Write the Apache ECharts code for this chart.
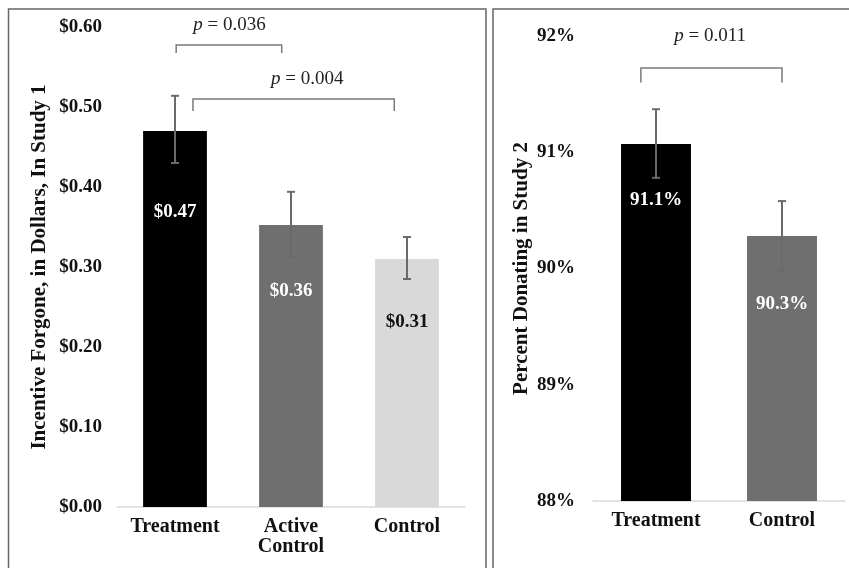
<!DOCTYPE html>
<html>
<head>
<meta charset="utf-8">
<script src="https://cdn.jsdelivr.net/npm/echarts@6/dist/echarts.min.js"></script>
<style>
html,body{margin:0;padding:0;background:#fff;}
#chart{width:849px;height:568px;}
</style>
</head>
<body>
<div id="chart"></div>
<script>
// ---------- Data ----------
var study1Categories = ['Treatment', 'Active\nControl', 'Control'];
var study1Values = [0.47, 0.3525, 0.31];
var study1Labels = ['$0.47', '$0.36', '$0.31'];
var study1ErrLow = [0.43, 0.3125, 0.285];
var study1ErrHigh = [0.514, 0.394, 0.3375];
var study1Colors = ['#000000', '#6f6f6f', '#d9d9d9'];
var study1LabelColors = ['#ffffff', '#ffffff', '#111111'];
var study1LabelDist = [72, 57, 54];

var study2Categories = ['Treatment', 'Control'];
var study2Values = [91.07, 90.28];
var study2Labels = ['91.1%', '90.3%'];
var study2ErrLow = [90.78, 89.98];
var study2ErrHigh = [91.37, 90.58];
var study2Colors = ['#000000', '#6f6f6f'];
var study2LabelDist = [46, 59];

// brackets: [xStart (category pos), xEnd, yTop, yTip, textX, textY, pText]
var study1Brackets = [
  [0.01, 0.92, 0.5775, 0.5675, 0.47, 0.603, '0.036'],
  [0.155, 1.89, 0.51, 0.495, 1.14, 0.535, '0.004']
];
var study2Brackets = [
  [-0.12, 1.0, 91.725, 91.60, 0.43, 92.0, '0.011']
];

var serif = '"Liberation Serif", "Times New Roman", serif';

function catX(api, pos, y) {
  var base = Math.floor(pos);
  var frac = pos - base;
  var band = api.size([1, 0])[0];
  return api.coord([base, y])[0] + frac * band;
}

function errRender(params, api) {
  var x = api.coord([api.value(0), api.value(1)])[0];
  var yLow = api.coord([api.value(0), api.value(1)])[1];
  var yHigh = api.coord([api.value(0), api.value(2)])[1];
  var cap = 4;
  var st = { stroke: '#6a6a6a', lineWidth: 2 };
  return {
    type: 'group',
    children: [
      { type: 'line', shape: { x1: x, y1: yLow, x2: x, y2: yHigh }, style: st },
      { type: 'line', shape: { x1: x - cap, y1: yLow, x2: x + cap, y2: yLow }, style: st },
      { type: 'line', shape: { x1: x - cap, y1: yHigh, x2: x + cap, y2: yHigh }, style: st }
    ]
  };
}

function bracketRender(brackets) {
  return function (params, api) {
    var b = brackets[params.dataIndex];
    var x1 = catX(api, b[0], b[2]);
    var x2 = catX(api, b[1], b[2]);
    var yTop = api.coord([0, b[2]])[1];
    var yTip = api.coord([0, b[3]])[1];
    var tx = catX(api, b[4], b[5]);
    var ty = api.coord([0, b[5]])[1];
    return {
      type: 'group',
      children: [
        {
          type: 'polyline',
          shape: { points: [[x1, yTip], [x1, yTop], [x2, yTop], [x2, yTip]] },
          style: { stroke: '#7a7a7a', lineWidth: 1.5, fill: null }
        },
        {
          type: 'text',
          x: tx, y: ty,
          style: {
            text: '{i|p} = ' + b[6],
            align: 'center', verticalAlign: 'middle',
            font: '19px ' + serif,
            fill: '#222',
            rich: { i: { fontStyle: 'italic', fontFamily: serif, fontSize: 19, fill: '#222' } }
          }
        }
      ]
    };
  };
}

var chart = echarts.init(document.getElementById('chart'));

var option = {
  backgroundColor: '#ffffff',
  animation: false,
  graphic: [
    { type: 'rect', shape: { x: 8.5, y: 9, width: 477.5, height: 580 }, style: { fill: null, stroke: '#666', lineWidth: 1.5 }, z: 100 },
    { type: 'rect', shape: { x: 493, y: 9, width: 380, height: 580 }, style: { fill: null, stroke: '#666', lineWidth: 1.5 }, z: 100 }
  ],
  grid: [
    { left: 117, right: 384, top: 27, bottom: 61 },
    { left: 593, right: 4, top: 36, bottom: 67 }
  ],
  xAxis: [
    {
      type: 'category', gridIndex: 0, data: study1Categories,
      axisLine: { lineStyle: { color: '#d9d9d9', width: 1.5 } },
      axisTick: { show: false },
      axisLabel: { fontFamily: serif, fontWeight: 'bold', fontSize: 20, color: '#111', margin: 10, lineHeight: 20 }
    },
    {
      type: 'category', gridIndex: 1, data: study2Categories,
      axisLine: { lineStyle: { color: '#d9d9d9', width: 1.5 } },
      axisTick: { show: false },
      axisLabel: { fontFamily: serif, fontWeight: 'bold', fontSize: 20, color: '#111', margin: 10 }
    }
  ],
  yAxis: [
    {
      type: 'value', gridIndex: 0, min: 0, max: 0.6, interval: 0.1,
      name: 'Incentive Forgone, in Dollars, In Study 1',
      nameLocation: 'middle', nameGap: 67, nameRotate: 90,
      nameTextStyle: { fontFamily: serif, fontWeight: 'bold', fontSize: 21, color: '#111' },
      axisLine: { show: false }, axisTick: { show: false }, splitLine: { show: false },
      axisLabel: {
        fontFamily: serif, fontWeight: 'bold', fontSize: 19, color: '#111', margin: 15,
        formatter: function (v) { return '$' + v.toFixed(2); }
      }
    },
    {
      type: 'value', gridIndex: 1, min: 88, max: 92, interval: 1,
      name: 'Percent Donating in Study 2',
      nameLocation: 'middle', nameGap: 61, nameRotate: 90,
      nameTextStyle: { fontFamily: serif, fontWeight: 'bold', fontSize: 21, color: '#111' },
      axisLine: { show: false }, axisTick: { show: false }, splitLine: { show: false },
      axisLabel: {
        fontFamily: serif, fontWeight: 'bold', fontSize: 19, color: '#111', margin: 18,
        formatter: function (v) { return v + '%'; }
      }
    }
  ],
  series: [
    {
      type: 'bar', xAxisIndex: 0, yAxisIndex: 0, barWidth: '55%',
      data: study1Values.map(function (v, i) {
        return {
          value: v,
          itemStyle: { color: study1Colors[i] },
          label: {
            show: true, position: 'insideTop', distance: study1LabelDist[i],
            formatter: study1Labels[i], color: study1LabelColors[i],
            fontFamily: serif, fontWeight: 'bold', fontSize: 19
          }
        };
      })
    },
    {
      type: 'custom', xAxisIndex: 0, yAxisIndex: 0, renderItem: errRender, z: 5,
      data: study1Values.map(function (v, i) { return [i, study1ErrLow[i], study1ErrHigh[i]]; })
    },
    {
      type: 'custom', xAxisIndex: 0, yAxisIndex: 0, renderItem: bracketRender(study1Brackets), z: 5,
      data: study1Brackets.map(function (b, i) { return [i, b[2]]; })
    },
    {
      type: 'bar', xAxisIndex: 1, yAxisIndex: 1, barWidth: '55.5%',
      data: study2Values.map(function (v, i) {
        return {
          value: v,
          itemStyle: { color: study2Colors[i] },
          label: {
            show: true, position: 'insideTop', distance: study2LabelDist[i],
            formatter: study2Labels[i], color: '#ffffff',
            fontFamily: serif, fontWeight: 'bold', fontSize: 19
          }
        };
      })
    },
    {
      type: 'custom', xAxisIndex: 1, yAxisIndex: 1, renderItem: errRender, z: 5,
      data: study2Values.map(function (v, i) { return [i, study2ErrLow[i], study2ErrHigh[i]]; })
    },
    {
      type: 'custom', xAxisIndex: 1, yAxisIndex: 1, renderItem: bracketRender(study2Brackets), z: 5,
      data: study2Brackets.map(function (b, i) { return [i, b[2]]; })
    }
  ]
};
chart.setOption(option);
</script>
</body>
</html>
